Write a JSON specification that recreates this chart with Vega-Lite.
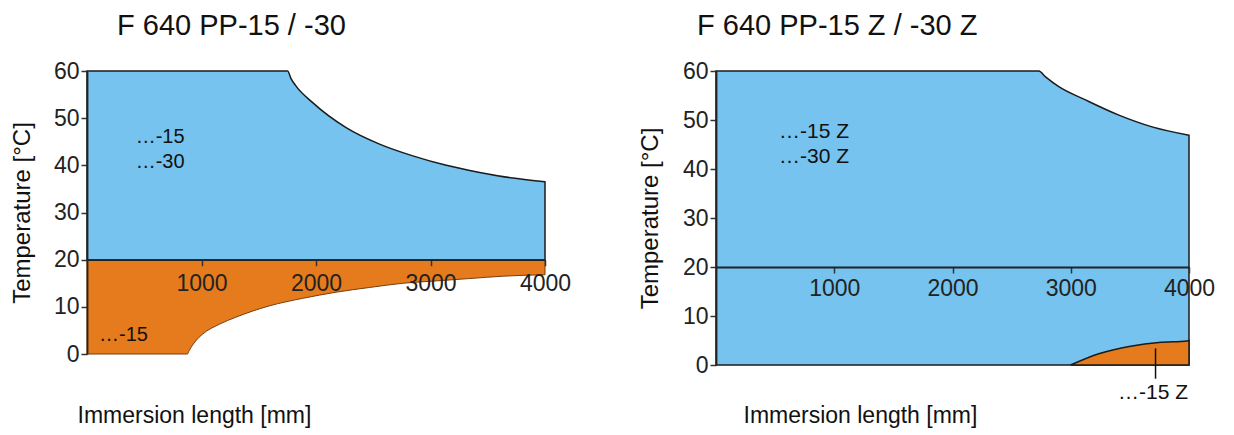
{
  "$schema": "https://vega.github.io/schema/vega-lite/v6.json",
  "background": "white",
  "padding": {"left": 10, "top": 12, "right": 5, "bottom": 5},
  "config": {
    "view": {"stroke": null},
    "font": "Liberation Sans",
    "axis": {
      "grid": false,
      "domainColor": "#222222",
      "domainWidth": 1.8,
      "tickColor": "#333333",
      "tickWidth": 1.5,
      "tickSize": 6,
      "labelColor": "#222222",
      "titleColor": "#111111",
      "labelFont": "Liberation Sans",
      "titleFont": "Liberation Sans",
      "titleFontWeight": "normal",
      "labelFlush": false,
      "labelOverlap": false,
      "zindex": 1
    }
  },
  "datasets": {
    "leftBlue": [
      {"x": 0, "y": 60}, {"x": 1752, "y": 60}, {"x": 1782, "y": 58.4}, {"x": 1826, "y": 56.8},
      {"x": 1971, "y": 53.3}, {"x": 2263, "y": 48.0}, {"x": 2555, "y": 44.5}, {"x": 2846, "y": 42.0},
      {"x": 3138, "y": 40.0}, {"x": 3430, "y": 38.5}, {"x": 3721, "y": 37.3}, {"x": 4000, "y": 36.5}
    ],
    "leftOrange": [
      {"x": 0, "y": 0}, {"x": 877, "y": 0}, {"x": 892, "y": 0.7}, {"x": 951, "y": 2.8},
      {"x": 1009, "y": 4.2}, {"x": 1155, "y": 6.3}, {"x": 1300, "y": 7.8}, {"x": 1592, "y": 10.2}, {"x": 1884, "y": 11.8},
      {"x": 2175, "y": 13.1}, {"x": 2467, "y": 14.1}, {"x": 2759, "y": 15.0}, {"x": 3050, "y": 15.5},
      {"x": 3342, "y": 16.0}, {"x": 3634, "y": 16.5}, {"x": 4000, "y": 16.8}
    ],
    "leftText": [
      {"x": 425, "y": 46.1, "label": "…-15"},
      {"x": 425, "y": 40.8, "label": "…-30"},
      {"x": 105, "y": 4.1, "label": "…-15"}
    ],
    "rightBlue": [
      {"x": 0, "y": 60}, {"x": 2730, "y": 60}, {"x": 2787, "y": 58.8}, {"x": 2899, "y": 56.8},
      {"x": 3125, "y": 54.1}, {"x": 3407, "y": 51.0}, {"x": 3688, "y": 48.6}, {"x": 4000, "y": 46.9}
    ],
    "rightOrange": [
      {"x": 2998, "y": 0}, {"x": 3237, "y": 2.3}, {"x": 3519, "y": 3.9}, {"x": 3745, "y": 4.6},
      {"x": 3984, "y": 4.9}, {"x": 4000, "y": 5.0}
    ],
    "rightRule": [
      {"x": 3717, "y": 3.4, "y2": -2.8}
    ],
    "rightText": [
      {"x": 533, "y": 47.5, "label": "…-15 Z"},
      {"x": 533, "y": 42.4, "label": "…-30 Z"},
      {"x": 3400, "y": -5.8, "label": "…-15 Z"}
    ]
  },
  "spacing": 171,
  "bounds": "flush",
  "hconcat": [
    {
      "width": 458,
      "height": 283,
      "title": {
        "text": "F 640 PP-15 / -30",
        "anchor": "start",
        "frame": "group",
        "dx": 30,
        "fontSize": 29,
        "fontWeight": "normal",
        "baseline": "alphabetic",
        "offset": -4,
        "color": "#111111",
        "font": "Liberation Sans"
      },
      "encoding": {
        "x": {
          "field": "x",
          "type": "quantitative",
          "scale": {"domain": [0, 4000], "nice": false},
          "axis": {
            "values": [1000, 2000, 3000, 4000],
            "format": "d",
            "offset": -94.3,
            "zindex": 2,
            "title": "Immersion length [mm]",
            "titleX": -10,
            "titleY": 163,
            "titleAlign": "left",
            "titleBaseline": "alphabetic",
            "titleFontSize": 23,
            "labelFontSize": 23,
            "labelPadding": 7
          }
        },
        "y": {
          "field": "y",
          "type": "quantitative",
          "scale": {"domain": [0, 60], "nice": false},
          "axis": {
            "values": [0, 10, 20, 30, 40, 50, 60],
            "zindex": 2,
            "title": "Temperature [°C]",
            "titleFontSize": 24,
            "titlePadding": 19,
            "labelFontSize": 23,
            "labelPadding": 2
          }
        }
      },
      "layer": [
        {
          "data": {"name": "leftBlue"},
          "mark": {"type": "area", "fill": "#75C3EE", "stroke": "#1b1b1b", "strokeWidth": 1.5, "interpolate": "monotone"},
          "encoding": {"y2": {"datum": 20}}
        },
        {
          "data": {"name": "leftOrange"},
          "mark": {"type": "area", "fill": "#E57B1C", "stroke": "#7a3d0a", "strokeWidth": 1, "interpolate": "monotone"},
          "encoding": {"y2": {"datum": 20}}
        },
        {
          "data": {"name": "leftText"},
          "mark": {"type": "text", "align": "left", "baseline": "middle", "fontSize": 20, "color": "#111111", "font": "Liberation Sans"},
          "encoding": {"text": {"field": "label"}}
        }
      ]
    },
    {
      "width": 473,
      "height": 294,
      "title": {
        "text": "F 640 PP-15 Z / -30 Z",
        "anchor": "start",
        "frame": "group",
        "dx": -19,
        "fontSize": 29,
        "fontWeight": "normal",
        "baseline": "alphabetic",
        "offset": -4,
        "color": "#111111",
        "font": "Liberation Sans"
      },
      "encoding": {
        "x": {
          "field": "x",
          "type": "quantitative",
          "scale": {"domain": [0, 4000], "nice": false},
          "axis": {
            "values": [1000, 2000, 3000, 4000],
            "format": "d",
            "offset": -98,
            "zindex": 2,
            "title": "Immersion length [mm]",
            "titleX": 27,
            "titleY": 155,
            "titleAlign": "left",
            "titleBaseline": "alphabetic",
            "titleFontSize": 23,
            "labelFontSize": 23,
            "labelPadding": 4
          }
        },
        "y": {
          "field": "y",
          "type": "quantitative",
          "scale": {"domain": [0, 60], "nice": false},
          "axis": {
            "values": [0, 10, 20, 30, 40, 50, 60],
            "zindex": 2,
            "title": "Temperature [°C]",
            "titleFontSize": 24,
            "titlePadding": 20,
            "labelFontSize": 23,
            "labelPadding": 2
          }
        }
      },
      "layer": [
        {
          "data": {"name": "rightBlue"},
          "mark": {"type": "area", "fill": "#75C3EE", "stroke": "#1b1b1b", "strokeWidth": 1.5, "interpolate": "monotone"},
          "encoding": {"y2": {"datum": 0}}
        },
        {
          "data": {"name": "rightOrange"},
          "mark": {"type": "area", "fill": "#E57B1C", "stroke": "#1b1b1b", "strokeWidth": 1.5, "interpolate": "monotone"},
          "encoding": {"y2": {"datum": 0}}
        },
        {
          "data": {"name": "rightRule"},
          "mark": {"type": "rule", "color": "#111111", "strokeWidth": 1.5},
          "encoding": {"y2": {"field": "y2"}}
        },
        {
          "data": {"name": "rightText"},
          "mark": {"type": "text", "align": "left", "baseline": "middle", "fontSize": 21, "color": "#111111", "font": "Liberation Sans"},
          "encoding": {"text": {"field": "label"}}
        }
      ]
    }
  ]
}
